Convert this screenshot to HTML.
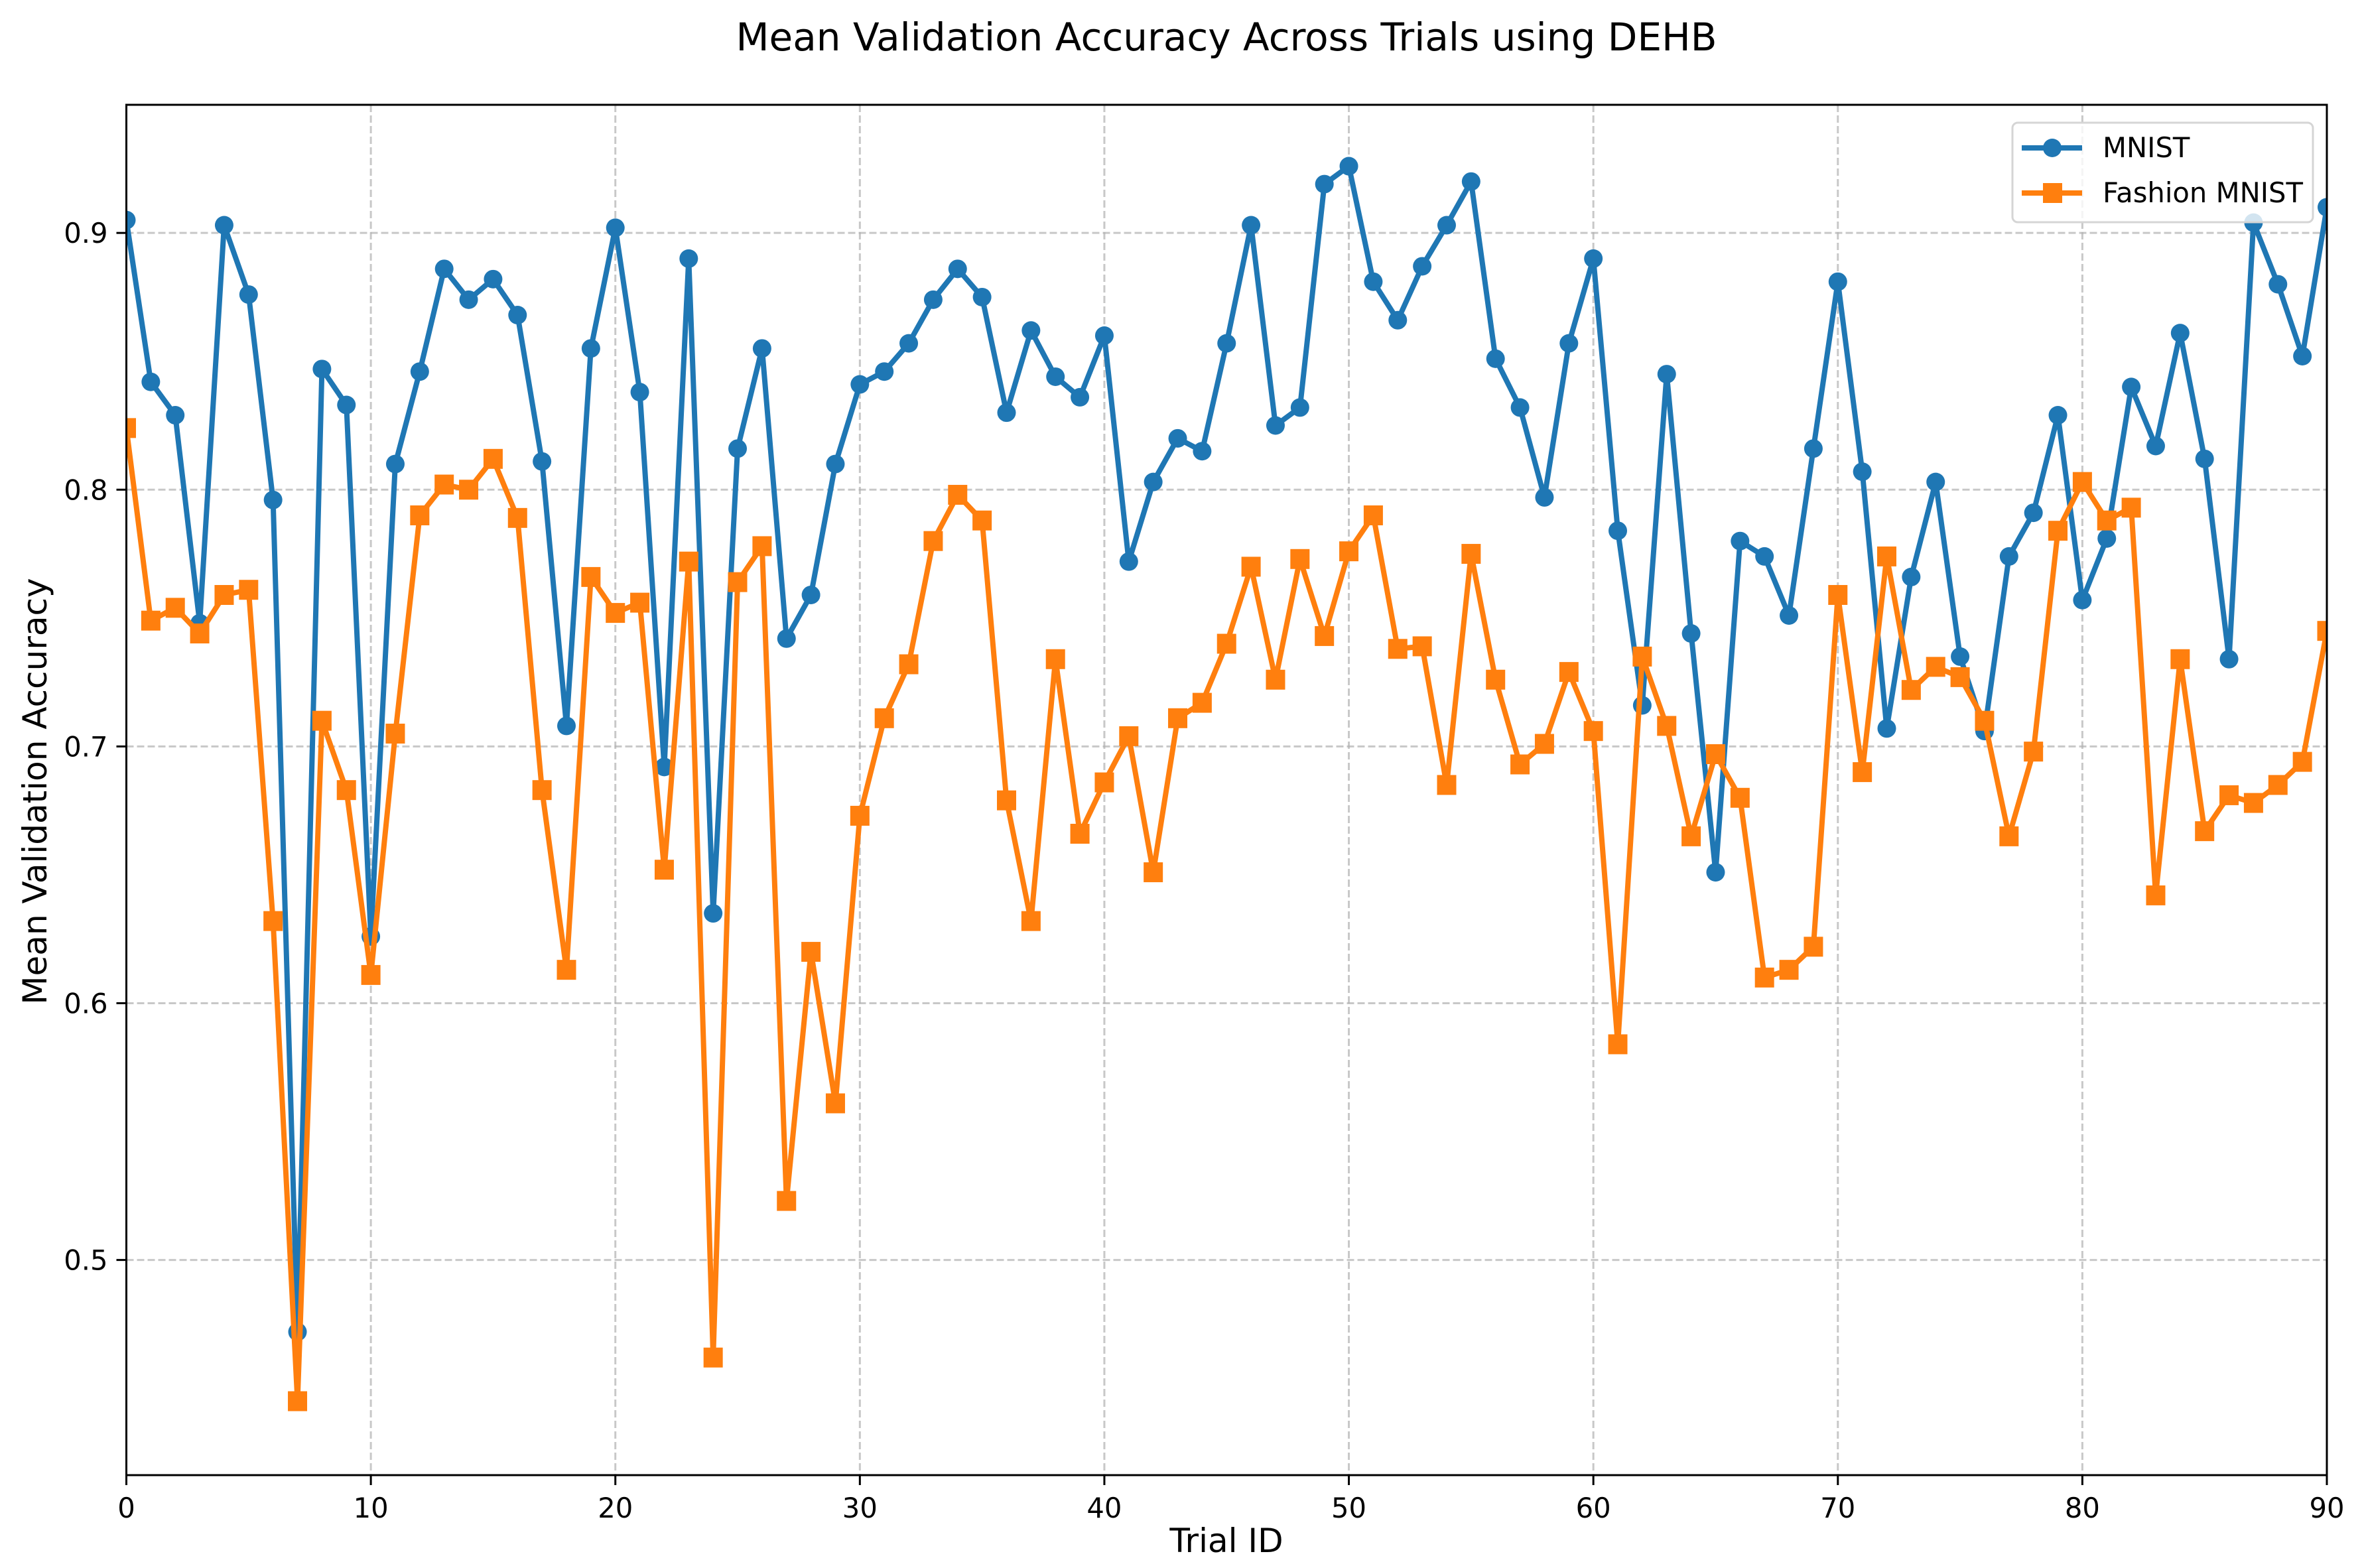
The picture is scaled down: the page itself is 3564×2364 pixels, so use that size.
<!DOCTYPE html>
<html><head><meta charset="utf-8"><style>
html,body{margin:0;padding:0;background:#fff;}
svg{display:block;font-family:"DejaVu Sans","Liberation Sans",sans-serif;}
</style></head><body>
<svg id="chart" width="3564" height="2364" viewBox="0 0 3564 2364" xmlns="http://www.w3.org/2000/svg">
<rect width="3564" height="2364" fill="#fff"/>
<text x="1849" y="76" font-size="58" text-anchor="middle">Mean Validation Accuracy Across Trials using DEHB</text>
<text x="1849" y="2340" font-size="50" text-anchor="middle">Trial ID</text>
<text transform="translate(70,1193) rotate(-90)" font-size="50" text-anchor="middle">Mean Validation Accuracy</text>
<g id="grid"></g>
<g id="series"></g>
<rect x="190.5" y="158" width="3317.5" height="2066" fill="none" stroke="#000" stroke-width="3"/>
<g id="ticks"></g>
<g>
<rect x="3034" y="185" width="453" height="150" rx="8" fill="#fff" fill-opacity="0.8" stroke="#d5d5d5" stroke-width="3"/>
<g>
<line x1="3048" y1="223" x2="3139" y2="223" stroke="#1f77b4" stroke-width="8"/>
<circle cx="3094" cy="223" r="14" fill="#1f77b4"/>
<text x="3170" y="237" font-size="41.7">MNIST</text></g>
<g>
<line x1="3048" y1="291" x2="3139" y2="291" stroke="#ff7f0e" stroke-width="8"/>
<rect x="3080" y="276" width="29" height="30" fill="#ff7f0e"/>
<text x="3170" y="305" font-size="41.7">Fashion MNIST</text></g>
</g>
</svg>
<script>
const trials = Array.from({length:91},(_,i)=>i);
const mnist = [0.905,0.842,0.829,0.748,0.903,0.876,0.796,0.472,0.847,0.833,0.626,0.810,0.846,0.886,0.874,0.882,0.868,0.811,0.708,0.855,0.902,0.838,0.692,0.890,0.635,0.816,0.855,0.742,0.759,0.810,0.841,0.846,0.857,0.874,0.886,0.875,0.830,0.862,0.844,0.836,0.860,0.772,0.803,0.820,0.815,0.857,0.903,0.825,0.832,0.919,0.926,0.881,0.866,0.887,0.903,0.920,0.851,0.832,0.797,0.857,0.890,0.784,0.716,0.845,0.744,0.651,0.780,0.774,0.751,0.816,0.881,0.807,0.707,0.766,0.803,0.735,0.706,0.774,0.791,0.829,0.757,0.781,0.840,0.817,0.861,0.812,0.734,0.904,0.880,0.852,0.910];
const fashion = [0.824,0.749,0.754,0.744,0.759,0.761,0.632,0.445,0.710,0.683,0.611,0.705,0.790,0.802,0.800,0.812,0.789,0.683,0.613,0.766,0.752,0.756,0.652,0.772,0.462,0.764,0.778,0.523,0.620,0.561,0.673,0.711,0.732,0.780,0.798,0.788,0.679,0.632,0.734,0.666,0.686,0.704,0.651,0.711,0.717,0.740,0.770,0.726,0.773,0.743,0.776,0.790,0.738,0.739,0.685,0.775,0.726,0.693,0.701,0.729,0.706,0.584,0.735,0.708,0.665,0.697,0.680,0.610,0.613,0.622,0.759,0.690,0.774,0.722,0.731,0.727,0.710,0.665,0.698,0.784,0.803,0.788,0.793,0.642,0.734,0.667,0.681,0.678,0.685,0.694,0.745];
const xTicks = [0,10,20,30,40,50,60,70,80,90];
const yTicks = [0.5,0.6,0.7,0.8,0.9];
const yTickLabels = ["0.5","0.6","0.7","0.8","0.9"];

const L=190.5,R=3508,T=158,B=2224,xMin=0,xMax=90,yMin=0.4162,yMax=0.9499;
const sx=v=>L+(v-xMin)/(xMax-xMin)*(R-L);
const sy=v=>B-(v-yMin)/(yMax-yMin)*(B-T);
const NS="http://www.w3.org/2000/svg";
function mk(tag,attrs,parent){const e=document.createElementNS(NS,tag);for(const k in attrs)e.setAttribute(k,attrs[k]);parent.appendChild(e);return e;}
const grid=document.getElementById('grid'),ticks=document.getElementById('ticks'),series=document.getElementById('series');
xTicks.forEach(t=>{
  const g=mk('line',{x1:sx(t),x2:sx(t),y1:T,y2:B,stroke:'#b0b0b0','stroke-opacity':0.7,'stroke-width':3,'stroke-dasharray':'11 5'},grid);
  
  
  const tk=mk('line',{x1:sx(t),x2:sx(t),y1:B,y2:B+15,stroke:'#000','stroke-width':3},ticks);
  
  
  const lb=mk('text',{x:sx(t),y:B+64,'font-size':41.7,'text-anchor':'middle'},ticks);
  
  
  lb.textContent=t;
});
yTicks.forEach((t,i)=>{
  const g=mk('line',{x1:L,x2:R,y1:sy(t),y2:sy(t),stroke:'#b0b0b0','stroke-opacity':0.7,'stroke-width':3,'stroke-dasharray':'11 5'},grid);
  
  
  const tk=mk('line',{x1:L-15,x2:L,y1:sy(t),y2:sy(t),stroke:'#000','stroke-width':3},ticks);
  
  
  const lb=mk('text',{x:L-28,y:sy(t)+15,'font-size':41.7,'text-anchor':'end'},ticks);
  
  
  lb.textContent=yTickLabels[i];
});
const clip=mk('clipPath',{id:'pc'},document.getElementById('chart'));
mk('rect',{x:L,y:T,width:R-L,height:B-T},clip);
function draw(vals,color,shape,name){
  const g=mk('g',{'clip-path':'url(#pc)'},series);
  
  
  const p=mk('polyline',{points:vals.map((v,i)=>sx(trials[i])+','+sy(v)).join(' '),fill:'none',stroke:color,'stroke-width':8,'stroke-linejoin':'round'},g);
  
  
  vals.forEach((v,i)=>{
    let m;
    if(shape==='circle') m=mk('circle',{cx:sx(trials[i]),cy:sy(v),r:14,fill:color},g);
    else m=mk('rect',{x:sx(trials[i])-14.5,y:sy(v)-15,width:29,height:30,fill:color},g);
    
    
  });
}
draw(mnist,'#1f77b4','circle','mnist-series');
draw(fashion,'#ff7f0e','square','fashion-mnist-series');
</script>
</body></html>
